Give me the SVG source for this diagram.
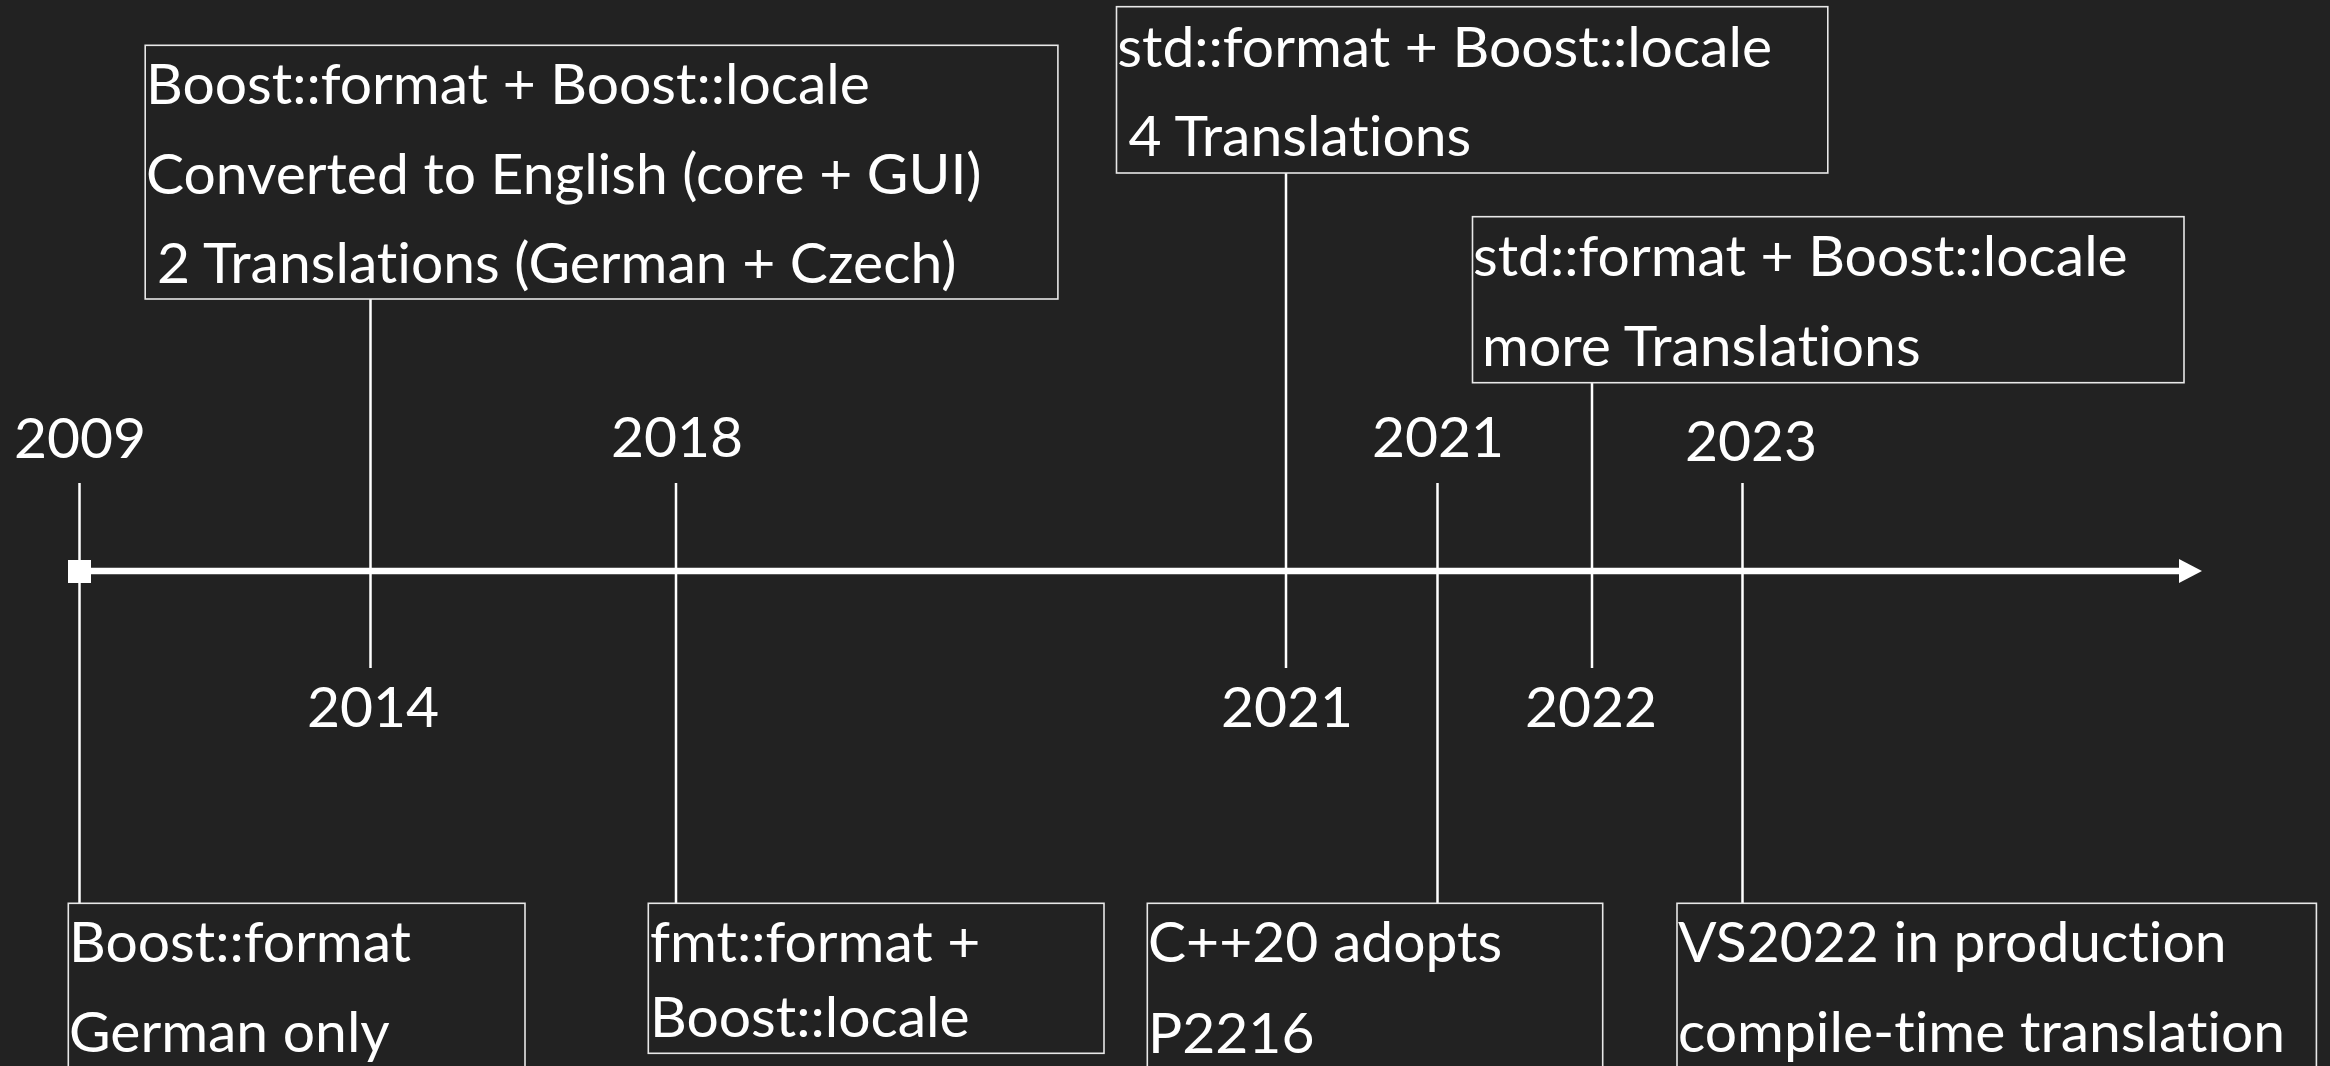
<svg xmlns="http://www.w3.org/2000/svg" width="2330" height="1066" viewBox="0 0 2330 1066">
<defs>
<style>
text{font-family:Lato,"Open Sans","Liberation Sans",sans-serif;font-size:57px;fill:#ffffff;font-variant-ligatures:none;font-feature-settings:"liga" 0,"clig" 0,"dlig" 0}
.yr{text-anchor:middle}
.box{fill:none;stroke:#e8e8e8;stroke-width:1.6}
.conn{stroke:#ffffff;stroke-width:2.5;fill:none}
</style>
</defs>
<rect x="0" y="0" width="2330" height="1066" fill="#222222"/>

<g id="connectors">
<line class="conn" x1="79.5" y1="483" x2="79.5" y2="903"/>
<line class="conn" x1="370.5" y1="299" x2="370.5" y2="668"/>
<line class="conn" x1="676" y1="483" x2="676" y2="903"/>
<line class="conn" x1="1286" y1="173" x2="1286" y2="668"/>
<line class="conn" x1="1437.5" y1="483" x2="1437.5" y2="903"/>
<line class="conn" x1="1592" y1="383" x2="1592" y2="668"/>
<line class="conn" x1="1742.5" y1="483" x2="1742.5" y2="903"/>
</g>

<g id="axis">
<line x1="90" y1="571" x2="2182" y2="571" stroke="#ffffff" stroke-width="6.5"/>
<rect x="68" y="560" width="23" height="23" fill="#ffffff"/>
<polygon points="2179,559 2202,571 2179,583" fill="#ffffff"/>
</g>

<g id="year-2009"><text class="yr" x="80" y="458">2009</text></g>
<g id="year-2014"><text class="yr" x="373" y="727">2014</text></g>
<g id="year-2018"><text class="yr" x="677" y="457">2018</text></g>
<g id="year-2021a"><text class="yr" x="1287" y="727">2021</text></g>
<g id="year-2021b"><text class="yr" x="1438" y="457">2021</text></g>
<g id="year-2022"><text class="yr" x="1591" y="727">2022</text></g>
<g id="year-2023"><text class="yr" x="1751" y="461">2023</text></g>

<g id="node-2014">
<rect class="box" x="145.2" y="45.3" width="912.7" height="253.7"/>
<text x="146" y="104">Boost::format + Boost::locale</text>
<text x="146" y="194">Converted to English (core + GUI)</text>
<text x="157" y="283">2 Translations (German + Czech)</text>
</g>

<g id="node-2021a">
<rect class="box" x="1116.5" y="6.7" width="711.3" height="166.3"/>
<text x="1117.3" y="66.7">std::format + Boost::locale</text>
<text x="1128.5" y="156">4 Translations</text>
</g>

<g id="node-2022">
<rect class="box" x="1472.5" y="216.7" width="711.5" height="166"/>
<text x="1473" y="276">std::format + Boost::locale</text>
<text x="1482" y="365.7">more Translations</text>
</g>

<g id="node-2009">
<rect class="box" x="68.3" y="903.3" width="456.7" height="200"/>
<text x="69" y="961.7">Boost::format</text>
<text x="69" y="1051.7">German only</text>
</g>

<g id="node-2018">
<rect class="box" x="648.3" y="903.3" width="455.7" height="150"/>
<text x="650" y="961.7">fmt::format +</text>
<text x="650" y="1036.7">Boost::locale</text>
</g>

<g id="node-2021b">
<rect class="box" x="1147.3" y="903.3" width="455.4" height="200"/>
<text x="1148" y="961.7">C++20 adopts</text>
<text x="1148" y="1052.7">P2216</text>
</g>

<g id="node-2023">
<rect class="box" x="1677" y="903.3" width="639.4" height="200"/>
<text x="1678" y="961.7">VS2022 in production</text>
<text x="1678" y="1051.7">compile-time translation</text>
</g>
</svg>
